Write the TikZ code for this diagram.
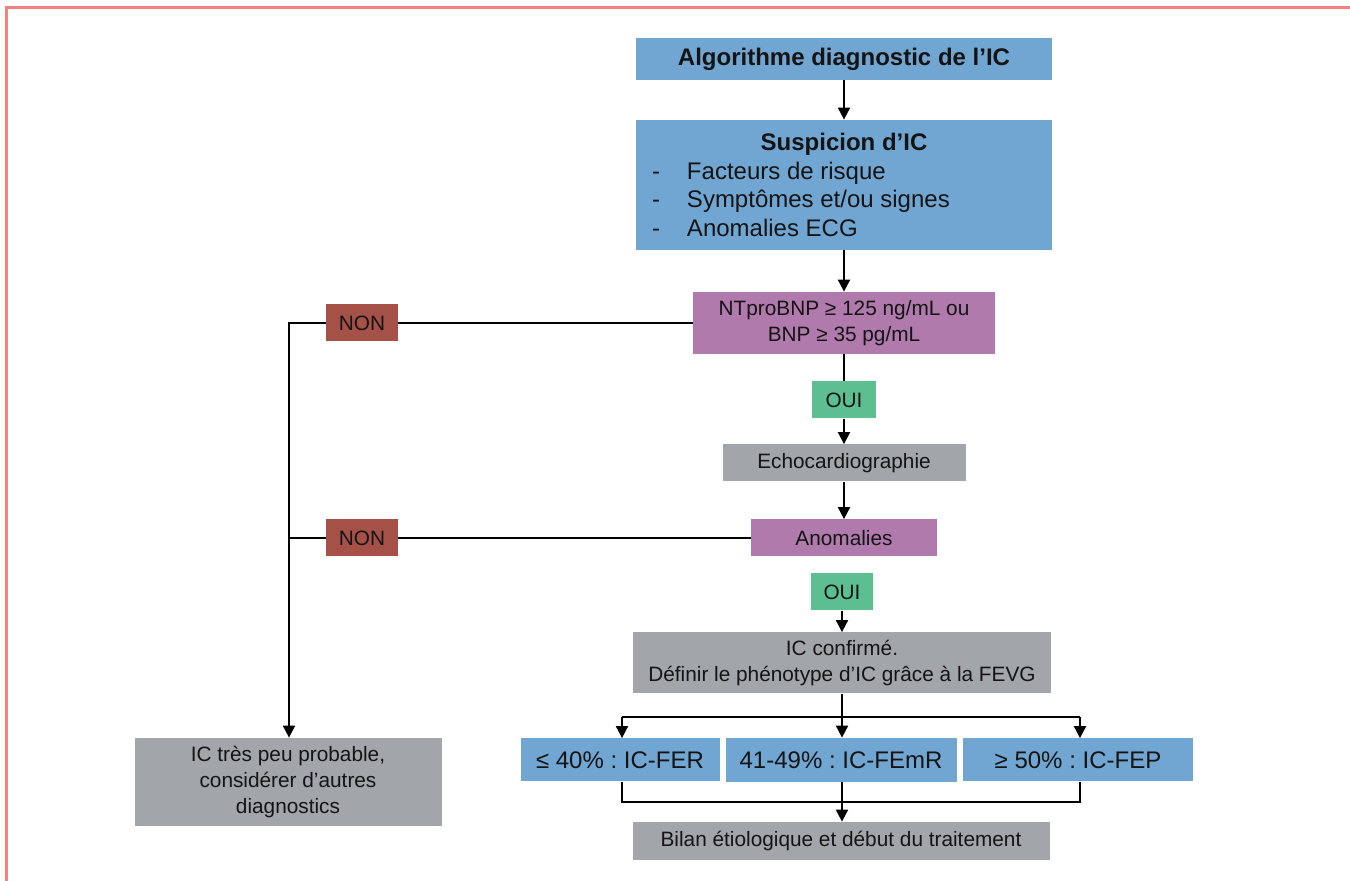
\documentclass[tikz,border=0pt]{standalone}
\usepackage{fontspec}
\setmainfont{Liberation Sans}
\frenchspacing
\usetikzlibrary{arrows.meta, positioning}
\definecolor{icblue}{RGB}{113,166,210}
\definecolor{icpurple}{RGB}{177,122,173}
\definecolor{icred}{RGB}{166,81,72}
\definecolor{icgreen}{RGB}{93,190,146}
\definecolor{icgray}{RGB}{162,166,170}
\definecolor{icframe}{RGB}{244,128,128}
\definecolor{ictext}{RGB}{20,20,20}
\tikzset{
   basebox/.style={
     inner sep=0pt, align=center, text=ictext,
     font=\fontsize{10.4}{13}\selectfont
   },
   bluebox/.style={
      basebox,
      fill=icblue,
   },
   testbox/.style={
      basebox,
      fill=icpurple,
   },
   nonbox/.style={
      basebox,
      fill=icred, minimum width=36pt, minimum height=18.5pt
   },
   ouibox/.style={
      basebox,
      fill=icgreen, minimum height=18.5pt
   },
   stepbox/.style={
      basebox,
      fill=icgray,
   },
   fevgbox/.style={
      bluebox,
      font=\fontsize{12}{14}\selectfont
   },
   plainline/.style={line width=1pt},
   flowline/.style={plainline, -{Triangle[length=6pt,width=6pt]}}
}
\newcommand{\puce}[1]{\makebox[192pt][l]{\makebox[17.5pt][l]{-}#1}}

\begin{document}
\begin{tikzpicture}[x=0.5pt, y=-0.5pt]
      \useasboundingbox (0,0) rectangle (1350,881);
      \draw[icframe, line width=1.5pt] (6,881) -- (6,8) -- (1350,8);

      \node[bluebox, minimum width=208pt, minimum height=21pt,
            font=\bfseries\fontsize{12}{14}\selectfont](titre) at (844,59) {Algorithme diagnostic de l’IC};
      \node[bluebox, minimum width=208pt, minimum height=65pt,
            font=\fontsize{12}{14.25}\selectfont](suspicion) at (844,185)
            {\textbf{Suspicion d’IC}\\ \puce{Facteurs de risque}\\ \puce{Symptômes et/ou signes}\\ \puce{Anomalies ECG}};

      \node[testbox, minimum width=151pt, minimum height=31pt](ntpro) at (844,323) {NTproBNP ≥ 125 ng/mL ou\\ BNP ≥ 35 pg/mL};
      \node[nonbox](non1) at (362,323) {NON};
      \node[ouibox, minimum width=32pt](oui1) at (844,400) {OUI};
      \node[stepbox, minimum width=121.5pt, minimum height=18.5pt](echo) at (844,463) {Echocardiographie};

      \node[testbox, minimum width=93pt, minimum height=18.5pt](anomalies) at (844,538) {Anomalies};
      \node[nonbox](non2) at (362,538) {NON};
      \node[ouibox, minimum width=31pt](oui2) at (842,592) {OUI};
      \node[stepbox, minimum width=209pt, minimum height=30.5pt](confirme) at (842,663) {IC confirmé.\\ Définir le phénotype d’IC grâce à la FEVG};

      \node[fevgbox, minimum width=99.5pt, minimum height=21.5pt](fer) at (620,760) {≤ 40\% : IC-FER};
      \node[fevgbox, minimum width=115.5pt, minimum height=22pt](femr) at (841,760) {41-49\% : IC-FEmR};
      \node[fevgbox, minimum width=115pt, minimum height=21.5pt](fep) at (1078,760) {≥ 50\% : IC-FEP};
      \node[stepbox, minimum width=208.5pt, minimum height=19pt](bilan) at (841,841) {Bilan étiologique et début du traitement};

      \node[stepbox, minimum width=153.5pt, minimum height=44pt](improbable) at (288,782) {IC très peu probable,\\ considérer d’autres\\ diagnostics};

      \coordinate (coude) at (289,323);
      \coordinate (split) at (842,717);
      \coordinate (merge) at (842,802);

      \draw[flowline] (titre) -- (suspicion);
      \draw[flowline] (suspicion) -- (ntpro);
      \draw[plainline] (ntpro) -- (oui1);
      \draw[flowline] (oui1) -- (echo);
      \draw[flowline] (echo) -- (anomalies);
      \draw[flowline] (oui2.south) -- (oui2.south |- confirme.north);

      \draw[plainline] (ntpro.west) -- (non1.east);
      \draw[plainline] (anomalies.west) -- (non2.east);
      \draw[plainline] (non2.west) -- (non2.west -| coude);
      \draw[flowline] (non1.west) -- (coude) -- (coude |- improbable.north);

      \draw[plainline] (confirme.south) -- (split);
      \draw[plainline] (split -| 622,0) -- (split -| 1080,0);
      \draw[flowline] (split -| 622,0) -- (fer.north -| 622,0);
      \draw[flowline] (split) -- (femr.north -| split);
      \draw[flowline] (split -| 1080,0) -- (fep.north -| 1080,0);

      \draw[plainline] (fer.south -| 622,0) -- (merge -| 622,0) -- (merge -| 1080,0) -- (fep.south -| 1080,0);
      \draw[flowline] (femr.south -| merge) -- (bilan.north -| merge);
   \end{tikzpicture}
\end{document}
